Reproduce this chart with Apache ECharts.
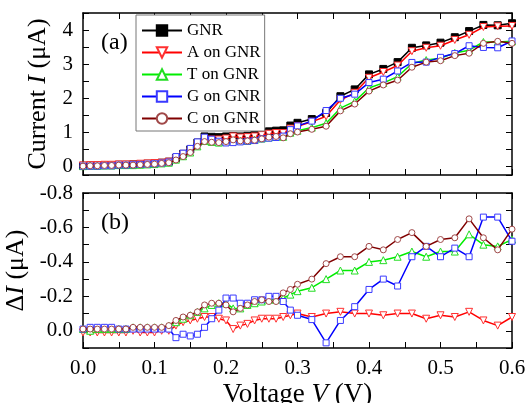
<!DOCTYPE html>
<html>
<head>
<meta charset="utf-8">
<script src="https://cdn.jsdelivr.net/npm/echarts@6/dist/echarts.min.js"></script>
<style>
html,body{margin:0;padding:0;background:#fff;}
#c{width:529px;height:403px;}
</style>
</head>
<body>
<div id="c"></div>
<script>
// ---- data ----
const voltage = [0.00,0.01,0.02,0.03,0.04,0.05,0.06,0.07,0.08,0.09,0.10,0.11,0.12,0.13,0.14,0.15,0.16,0.17,0.18,0.19,0.20,0.21,0.22,0.23,0.24,0.25,0.26,0.27,0.28,0.29,0.30,
  0.32,0.34,0.36,0.38,0.40,0.42,0.44,0.46,0.48,0.50,0.52,0.54,0.56,0.58,0.60];

const seriesNames = ['GNR','A on GNR','T on GNR','G on GNR','C on GNR'];

// Current I (μA)
const currentGNR = [0.02,0.03,0.03,0.04,0.04,0.05,0.05,0.06,0.07,0.08,0.09,0.11,0.14,0.25,0.37,0.50,0.70,0.88,0.87,0.86,0.88,0.89,0.88,0.90,0.94,0.99,1.03,1.05,1.06,1.20,1.28,
  1.39,1.57,2.06,2.26,2.70,2.86,3.06,3.48,3.55,3.63,3.79,3.97,4.15,4.14,4.20];
const currentA = [0.03,0.04,0.04,0.05,0.05,0.06,0.06,0.06,0.08,0.09,0.10,0.11,0.14,0.22,0.32,0.44,0.63,0.80,0.79,0.79,0.82,0.88,0.85,0.86,0.88,0.92,0.96,0.98,0.98,1.11,1.18,
  1.31,1.47,1.95,2.16,2.60,2.77,2.96,3.38,3.48,3.54,3.71,3.86,4.09,4.11,4.12];
const currentT = [0.01,0.03,0.02,0.03,0.03,0.04,0.04,0.04,0.05,0.06,0.07,0.09,0.11,0.20,0.30,0.41,0.59,0.75,0.72,0.70,0.72,0.76,0.75,0.75,0.78,0.82,0.85,0.87,0.87,0.99,1.05,
  1.14,1.27,1.71,1.91,2.30,2.45,2.63,3.02,3.12,3.17,3.33,3.41,3.65,3.65,3.67];
const currentG = [0.01,0.01,0.01,0.02,0.02,0.04,0.04,0.05,0.06,0.07,0.08,0.10,0.13,0.29,0.39,0.53,0.72,0.86,0.80,0.74,0.69,0.70,0.72,0.74,0.76,0.81,0.83,0.85,0.89,1.08,1.19,
  1.33,1.64,2.00,2.12,2.46,2.56,2.80,3.05,3.06,3.20,3.31,3.54,3.49,3.48,3.68];
const currentC = [0.01,0.02,0.02,0.03,0.03,0.04,0.04,0.04,0.05,0.06,0.07,0.09,0.11,0.19,0.29,0.41,0.59,0.73,0.71,0.70,0.73,0.78,0.75,0.75,0.77,0.81,0.86,0.88,0.84,0.96,1.01,
  1.09,1.18,1.63,1.83,2.21,2.39,2.53,2.91,3.06,3.10,3.25,3.32,3.61,3.67,3.61];

// ΔI (μA)
const deltaA = [0.01,0.01,0.01,0.01,0.01,0.01,0.01,0.00,0.01,0.01,0.01,0.00,0.00,-0.03,-0.05,-0.06,-0.07,-0.08,-0.08,-0.07,-0.06,-0.01,-0.03,-0.04,-0.06,-0.07,-0.07,-0.07,-0.08,-0.09,-0.10,
  -0.08,-0.10,-0.11,-0.10,-0.10,-0.09,-0.10,-0.10,-0.07,-0.09,-0.08,-0.11,-0.06,-0.03,-0.08];
const deltaT = [-0.01,0.00,-0.01,-0.01,-0.01,-0.01,-0.01,-0.02,-0.02,-0.02,-0.02,-0.02,-0.03,-0.05,-0.07,-0.09,-0.11,-0.13,-0.15,-0.16,-0.16,-0.13,-0.13,-0.15,-0.16,-0.17,-0.18,-0.18,-0.19,-0.21,-0.23,
  -0.25,-0.30,-0.35,-0.35,-0.40,-0.41,-0.43,-0.46,-0.43,-0.46,-0.46,-0.56,-0.50,-0.49,-0.53];
const deltaG = [-0.01,-0.02,-0.02,-0.02,-0.02,-0.01,-0.01,-0.01,-0.01,-0.01,-0.01,-0.01,-0.01,0.04,0.02,0.03,0.02,-0.02,-0.07,-0.12,-0.19,-0.19,-0.16,-0.16,-0.18,-0.18,-0.20,-0.20,-0.17,-0.12,-0.09,
  -0.065,0.07,-0.06,-0.14,-0.24,-0.30,-0.26,-0.43,-0.49,-0.43,-0.48,-0.43,-0.66,-0.66,-0.52];
const deltaC = [-0.01,-0.01,-0.01,-0.01,-0.01,-0.01,-0.01,-0.02,-0.02,-0.02,-0.02,-0.02,-0.03,-0.06,-0.08,-0.09,-0.11,-0.15,-0.16,-0.16,-0.15,-0.11,-0.13,-0.15,-0.17,-0.18,-0.17,-0.17,-0.22,-0.24,-0.27,
  -0.30,-0.39,-0.43,-0.43,-0.49,-0.47,-0.53,-0.57,-0.49,-0.53,-0.54,-0.65,-0.54,-0.47,-0.59];

const xTickValues = ['0.0','0.1','0.2','0.3','0.4','0.5','0.6'];
const yTopLabels = ['0','1','2','3','4'];
const yBottomLabels = ['-0.8','-0.6','-0.4','-0.2','0.0'];

// ---- styling ----
const FONT = 'Liberation Serif';
const styles = [
  {line:'#000000', symbol:'rect', fill:'#000000', border:'#000000', rotate:0, size:7},
  {line:'#ff0000', symbol:'triangle', fill:'#ffffff', border:'#ff3030', rotate:180, size:7},
  {line:'#00ee00', symbol:'triangle', fill:'#ffffff', border:'#22dd22', rotate:0, size:7},
  {line:'#0000ff', symbol:'rect', fill:'#ffffff', border:'#3a3aff', rotate:0, size:6},
  {line:'#800000', symbol:'circle', fill:'#ffffff', border:'#a04848', rotate:0, size:6}
];

function pairs(ys){ return voltage.map((v,i)=>[v, ys[i]]); }

function mkSeries(name, st, ys, xi, yi, z){
  return {
    name: name, type:'line', xAxisIndex:xi, yAxisIndex:yi, data: pairs(ys),
    symbol: st.symbol, symbolSize: st.size, symbolRotate: st.rotate, z: z,
    lineStyle:{color: st.line, width:1.5},
    itemStyle:{color: st.fill, borderColor: st.border, borderWidth: 1},
    emphasis:{disabled:true}, animation:false
  };
}

const axisLineStyle = {show:true, onZero:false, lineStyle:{color:'#000', width:1.5}};
const tickStyle = {show:true, inside:true, length:6, lineStyle:{color:'#000', width:1}};
const labelBase = {margin:10, fontSize:21, fontFamily:FONT, color:'#000'};

function xAx(grid, pos, labels, name){
  const a = {
    type:'value', gridIndex:grid, position:pos, min:0, max:0.6, interval:0.05,
    axisLine: axisLineStyle, axisTick: tickStyle, splitLine:{show:false},
    axisLabel:Object.assign({show:labels,
      formatter: function(v){ const k = Math.round(v*100); if (k % 10 !== 0) return ''; const idx = k/10; return xTickValues[idx] || ''; }}, labelBase)
  };
  if (name){
    a.name = 'Voltage {i|V} (V)';
    a.nameLocation = 'middle'; a.nameGap = 33;
    a.nameTextStyle = {fontSize:27, fontFamily:FONT, color:'#000', rich:{i:{fontStyle:'italic', fontSize:27, fontFamily:FONT, color:'#000'}}};
  }
  return a;
}

const option = {
  backgroundColor:'#fff',
  animation:false,
  textStyle:{fontFamily:FONT},
  grid:[
    {left:83, top:13, width:429, height:162, outerBoundsMode:'none', containLabel:false},
    {left:83, top:193, width:429, height:155, outerBoundsMode:'none', containLabel:false}
  ],
  xAxis:[
    xAx(0,'bottom',false,false),
    xAx(0,'top',false,false),
    xAx(1,'bottom',true,true),
    xAx(1,'top',false,false)
  ],
  yAxis:[
    {type:'value', gridIndex:0, position:'left', min:-0.25, max:4.5, minInterval:0.5, maxInterval:0.5,
      axisLine:axisLineStyle, axisTick:tickStyle, splitLine:{show:false},
      axisLabel:Object.assign({
        formatter:function(v){ const r = Math.round(v); if (Math.abs(v-r) > 1e-6 || r < 0) return ''; return yTopLabels[r] || ''; }}, labelBase),
      name:'Current {i|I} (μA)', nameLocation:'middle', nameGap:28, nameRotate:90,
      nameTextStyle:{fontSize:26, fontFamily:FONT, color:'#000', rich:{i:{fontStyle:'italic', fontSize:26, fontFamily:FONT, color:'#000'}}}
    },
    {type:'value', gridIndex:0, position:'right', min:-0.25, max:4.5, minInterval:0.5, maxInterval:0.5,
      axisLine:axisLineStyle, axisTick:tickStyle, splitLine:{show:false}, axisLabel:{show:false}},
    {type:'value', gridIndex:1, position:'left', min:-0.8, max:0.1, interval:0.1, inverse:true,
      axisLine:axisLineStyle, axisTick:tickStyle, splitLine:{show:false},
      axisLabel:Object.assign({
        formatter:function(v){ const k = Math.round(v*10); if (k > 0 || k % 2 !== 0) return ''; return yBottomLabels[(k+8)/2] || ''; }}, labelBase),
      name:'Δ{i|I} (μA)', nameLocation:'middle', nameGap:35, nameRotate:90,
      nameTextStyle:{fontSize:26, fontFamily:FONT, color:'#000', rich:{i:{fontStyle:'italic', fontSize:26, fontFamily:FONT, color:'#000'}}}
    },
    {type:'value', gridIndex:1, position:'right', min:-0.8, max:0.1, interval:0.1, inverse:true,
      axisLine:axisLineStyle, axisTick:tickStyle, splitLine:{show:false}, axisLabel:{show:false}}
  ],
  legend:{
    data: seriesNames, orient:'vertical', left:136, top:15,
    padding:[7,4,4,5], itemGap:5, itemWidth:40, itemHeight:13,
    backgroundColor:'#fff', borderColor:'#777', borderWidth:1,
    textStyle:{fontSize:17, fontFamily:FONT, color:'#000'},
    selectedMode:false
  },
  graphic:[
    {type:'text', left:101, top:31, style:{text:'(a)', font:"24px 'Liberation Serif'", fill:'#000'}},
    {type:'text', left:101, top:211, style:{text:'(b)', font:"24px 'Liberation Serif'", fill:'#000'}}
  ],
  series:[
    mkSeries(seriesNames[0], styles[0], currentGNR, 0, 0, 2),
    mkSeries(seriesNames[1], styles[1], currentA, 0, 0, 3),
    mkSeries(seriesNames[2], styles[2], currentT, 0, 0, 4),
    mkSeries(seriesNames[3], styles[3], currentG, 0, 0, 5),
    mkSeries(seriesNames[4], styles[4], currentC, 0, 0, 6),
    mkSeries(seriesNames[1], styles[1], deltaA, 2, 2, 3),
    mkSeries(seriesNames[2], styles[2], deltaT, 2, 2, 4),
    mkSeries(seriesNames[3], styles[3], deltaG, 2, 2, 5),
    mkSeries(seriesNames[4], styles[4], deltaC, 2, 2, 6)
  ]
};

const chart = echarts.init(document.getElementById('c'), null, {renderer:'canvas'});
chart.setOption(option);
</script>
</body>
</html>
